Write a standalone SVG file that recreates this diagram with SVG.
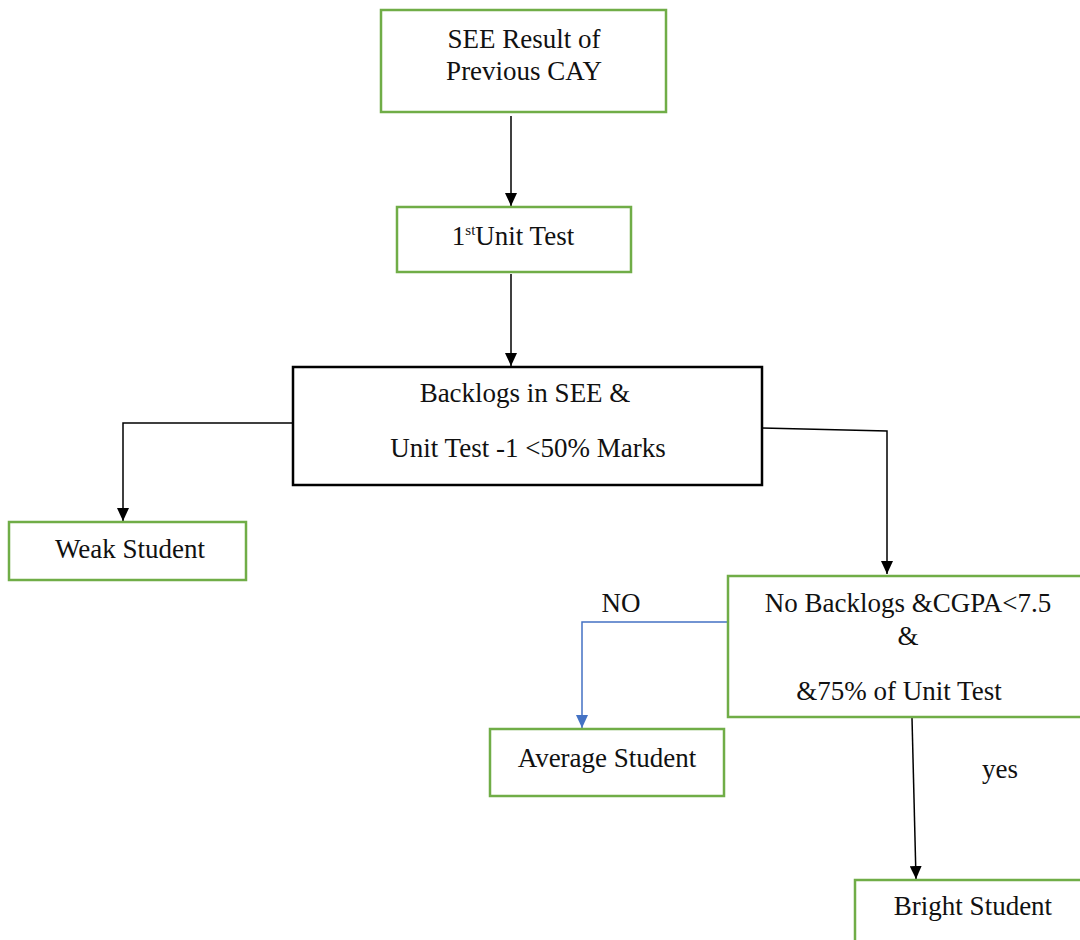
<svg xmlns="http://www.w3.org/2000/svg" width="1080" height="940" viewBox="0 0 1080 940">
<style>
.g{fill:#fff;stroke:#70ad47;stroke-width:2.5}
.b{fill:#fff;stroke:#000;stroke-width:2.5}
text{font-family:"Liberation Serif","Times New Roman",serif;font-size:27px;fill:#111;text-anchor:middle}
.c{fill:none;stroke:#000;stroke-width:1.5}
.bl{fill:none;stroke:#4472c4;stroke-width:1.5}
</style>
<defs>
<marker id="ah" markerWidth="13" markerHeight="12" refX="13" refY="6" orient="auto" markerUnits="userSpaceOnUse" viewBox="0 0 13 12"><path d="M0,0 L13,6 L0,12 z" fill="#000"/></marker>
<marker id="ahb" markerWidth="13" markerHeight="12" refX="13" refY="6" orient="auto" markerUnits="userSpaceOnUse" viewBox="0 0 13 12"><path d="M0,0 L13,6 L0,12 z" fill="#4472c4"/></marker>
</defs>
<g id="connectors">
<line class="c" x1="511" y1="116" x2="511" y2="206" marker-end="url(#ah)"/>
<line class="c" x1="511" y1="274" x2="511" y2="366" marker-end="url(#ah)"/>
<polyline class="c" points="293,423 123,423 123,521" marker-end="url(#ah)"/>
<polyline class="c" points="762,428 887,431 887,574" marker-end="url(#ah)"/>
<polyline class="bl" points="735,622 582,622 582,728" marker-end="url(#ahb)"/>
<line class="c" x1="912" y1="718" x2="916" y2="879" marker-end="url(#ah)"/>
<text x="621" y="612">NO</text>
<text x="1000" y="778">yes</text>
</g>
<g id="n1">
<rect class="g" x="381" y="10" width="285" height="102"/>
<text x="524" y="48">SEE Result of</text>
<text x="524" y="80">Previous CAY</text>
</g>
<g id="n2">
<rect class="g" x="397" y="207" width="234" height="65"/>
<text x="513" y="245">1<tspan font-size="15" dy="-10">st</tspan><tspan dy="10">Unit Test</tspan></text>
</g>
<g id="n3">
<rect class="b" x="293" y="367" width="469" height="118"/>
<text x="525" y="402">Backlogs in SEE &amp;</text>
<text x="528" y="457">Unit Test -1 &lt;50% Marks</text>
</g>
<g id="n4">
<rect class="g" x="9" y="522" width="237" height="58"/>
<text x="130" y="558">Weak Student</text>
</g>
<g id="n5">
<rect class="g" x="728" y="576" width="355" height="141"/>
<text x="908" y="612">No Backlogs &amp;CGPA&lt;7.5</text>
<text x="908" y="645">&amp;</text>
<text x="899" y="700">&amp;75% of Unit Test</text>
</g>
<g id="n6">
<rect class="g" x="490" y="729" width="234" height="67"/>
<text x="607" y="767">Average Student</text>
</g>
<g id="n7">
<rect class="g" x="855" y="880" width="230" height="65"/>
<text x="973" y="915">Bright Student</text>
</g>
</svg>
